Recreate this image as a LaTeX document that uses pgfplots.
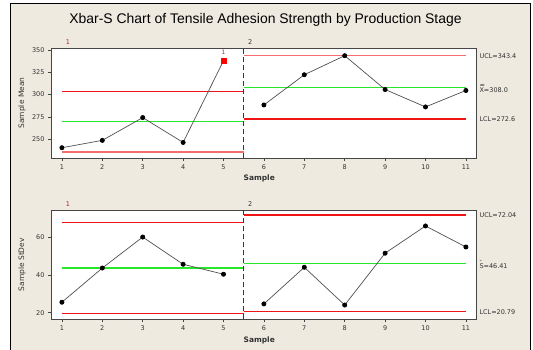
\documentclass[border=0pt]{standalone}
\usepackage{pgfplots}
\pgfplotsset{compat=1.18}
\usepackage{fontspec}
\setmainfont{DejaVu Sans}
\newfontfamily\titlefont{Liberation Sans}
\definecolor{bgbeige}{RGB}{238,234,224}
\definecolor{uclred}{RGB}{240,20,20}
\definecolor{salmonred}{RGB}{245,110,110}
\definecolor{clgreen}{RGB}{40,230,40}
\definecolor{dashblue}{RGB}{30,30,250}
\definecolor{axgray}{RGB}{70,70,70}
\definecolor{lngray}{RGB}{80,80,80}
\definecolor{txtgray}{RGB}{50,50,50}
\definecolor{dkred}{RGB}{170,40,40}
\newcommand{\sm}{\fontsize{6.5}{7}\selectfont}
\pgfplotsset{
  cc/.style={
    scale only axis, width=425bp, anchor=north west,
    xmin=0.73, xmax=11.25, xtick={1,...,11},
    axis background/.style={fill=white},
    axis line style={draw=axgray, line width=0.8bp},
    tick style={draw=axgray, line width=0.5bp},
    tick align=outside, tick pos=left, major tick length=3bp,
    ticklabel style={font=\sm, text=txtgray},
    /pgf/number format/assume math mode=true,
    clip=false,
    xlabel={Sample},
    xlabel style={font=\fontsize{7.5}{8}\selectfont\bfseries, text=txtgray, at={(axis description cs:0.49,-0.19)}, anchor=center},
    ylabel style={font=\fontsize{7.5}{8}\selectfont, text=txtgray, at={(axis description cs:-0.068,0.5)}, anchor=center},
  },
  mline/.style={draw=lngray, line width=0.7bp, mark=*, mark size=2.1bp, mark options={fill=black, draw=black}},
  red line/.style={draw=uclred, line width=1.1bp},
  pink line/.style={draw=salmonred, line width=1.6bp},
  green line/.style={draw=clgreen, line width=1.1bp},
  blue line/.style={draw=dashblue, line width=1.1bp, dash pattern=on 5bp off 3bp},
}
\begin{document}
\begin{tikzpicture}
\path[use as bounding box] (0,0) rectangle (533bp,-350bp);
\fill[white] (0,0) rectangle (533bp,-350bp);
\fill[bgbeige] (10bp,-3bp) rectangle (530bp,-352bp);
\draw[black, line width=0.8bp] (10bp,-352bp) -- (10bp,-3bp) -- (530bp,-3bp) -- (530bp,-352bp);
\node[font=\titlefont\fontsize{14}{16}\selectfont, anchor=center] at (265.5bp,-20bp) {Xbar-S Chart of Tensile Adhesion Strength by Production Stage};

% ---------- Xbar chart ----------
\begin{axis}[cc, at={(51bp,-48bp)}, height=110bp,
  ymin=229, ymax=352, ytick={250,275,300,325,350}, ylabel={Sample Mean}]
\addplot[red line] coordinates {(1,303.6)(5.5,303.6)};
\addplot[green line] coordinates {(1,269.6)(5.5,269.6)};
\addplot[pink line] coordinates {(1,235.6)(5.5,235.6)};
\addplot[pink line] coordinates {(5.5,343.4)(11,343.4)};
\addplot[green line] coordinates {(5.5,308.0)(11,308.0)};
\addplot[red line] coordinates {(5.5,272.6)(11,272.6)};
\addplot[blue line] coordinates {(5.5,229)(5.5,352)};
\addplot[mline] coordinates {(1,240.5)(2,248.7)(3,274.2)(4,246.4)(5,337.8)};
\addplot[only marks, mark=square*, mark size=2.2bp, mark options={fill=red, draw=red}] coordinates {(5,337.8)};
\addplot[mline] coordinates {(6,288.3)(7,322.1)(8,343.4)(9,305.6)(10,286.1)(11,304.5)};
\node[font=\fontsize{6}{6}\selectfont, text=dkred, anchor=south] at (axis cs:5,340.5) {1};
\node[font=\sm, text=dkred, anchor=south] at (axis cs:1.15,352) {1};
\node[font=\sm, text=txtgray, anchor=south] at (axis cs:5.66,352) {2};
\node[font=\sm, text=txtgray, anchor=west] at (axis cs:11.25,343.4) {UCL=343.4};
\node[font=\sm, text=txtgray, anchor=west] at (axis cs:11.25,306.5) {\makebox[0pt][l]{\raisebox{1.6ex}{=}}X=308.0};
\node[font=\sm, text=txtgray, anchor=west] at (axis cs:11.25,272.0) {LCL=272.6};
\end{axis}

% ---------- S chart ----------
\begin{axis}[cc, at={(51bp,-210bp)}, height=109.3bp,
  ymin=16.5, ymax=74.7, ytick={20,40,60}, ylabel={Sample StDev}]
\addplot[red line] coordinates {(1,67.9)(5.5,67.9)};
\addplot[green line] coordinates {(1,43.8)(5.5,43.8)};
\addplot[red line] coordinates {(1,19.7)(5.5,19.7)};
\addplot[red line] coordinates {(5.5,72.04)(11,72.04)};
\addplot[green line] coordinates {(5.5,46.41)(11,46.41)};
\addplot[red line] coordinates {(5.5,20.79)(11,20.79)};
\addplot[blue line] coordinates {(5.5,16.5)(5.5,74.7)};
\addplot[mline] coordinates {(1,25.6)(2,43.8)(3,60.3)(4,45.8)(5,40.5)};
\addplot[mline] coordinates {(6,24.7)(7,44.2)(8,24.1)(9,51.7)(10,66.2)(11,55.0)};
\node[font=\sm, text=dkred, anchor=south] at (axis cs:1.15,74.7) {1};
\node[font=\sm, text=txtgray, anchor=south] at (axis cs:5.66,74.7) {2};
\node[font=\sm, text=txtgray, anchor=west] at (axis cs:11.25,72.04) {UCL=72.04};
\node[font=\sm, text=txtgray, anchor=west] at (axis cs:11.25,45.6) {\makebox[0pt][l]{\raisebox{1.5ex}{-}}S=46.41};
\node[font=\sm, text=txtgray, anchor=west] at (axis cs:11.25,20.4) {LCL=20.79};
\end{axis}
\end{tikzpicture}
\end{document}
